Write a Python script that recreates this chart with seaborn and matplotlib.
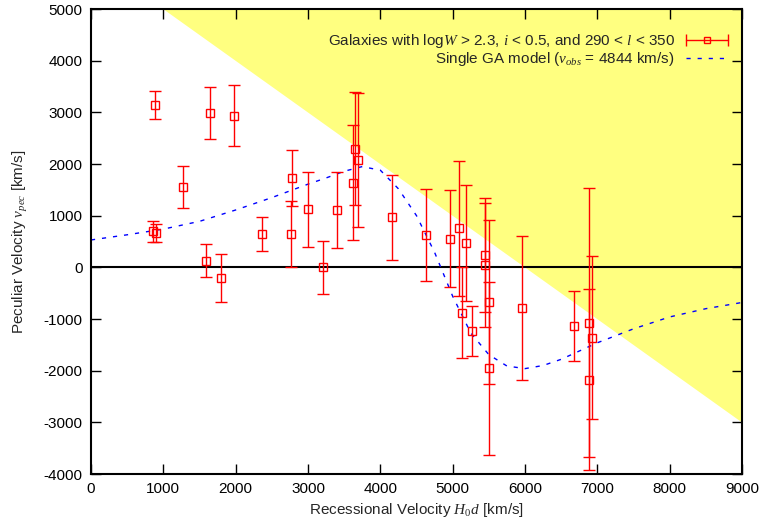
import numpy as np
import pandas as pd
import matplotlib
matplotlib.use("Agg")
import matplotlib.pyplot as plt
from matplotlib.lines import Line2D
from matplotlib.legend_handler import HandlerLine2D, HandlerTuple
import seaborn as sns

# galaxies: recessional velocity H0d, peculiar velocity, error (km/s)
hd = [880, 1645, 1977, 1267, 2774, 862, 899, 2360, 2760, 1590, 1797,
      2996, 3401, 3212, 3650, 3691, 3627, 4162, 4627, 4960, 5084, 5180,
      5125, 5272, 5452, 5447, 5498, 5502, 5959, 6682, 6885, 6922, 6880]
vpec = [3140, 2990, 2935, 1560, 1735, 700, 665, 645, 645, 130, -210,
        1120, 1105, 0, 2300, 2080, 1640, 965, 630, 550, 755, 476,
        -878, -1230, 238, 45, -677, -1955, -788, -1130, -1070, -1362, -2175]
verr = [270, 500, 590, 410, 545, 200, 165, 325, 630, 320, 460,
        725, 735, 510, 1100, 1300, 1115, 830, 895, 940, 1310, 1120,
        875, 490, 1100, 1200, 1590, 1680, 1400, 680, 2600, 1575, 1750]

# single GA model curve
model_hd = [0, 500, 1000, 1500, 2000, 2500, 3000, 3250, 3500, 3750, 4000,
            4250, 4500, 4750, 5000, 5250, 5500, 5750, 6000, 6250, 6500,
            6750, 7000, 7500, 8000, 8500, 9000]
model_v = [530, 630, 740, 890, 1110, 1350, 1610, 1730, 1860, 1950, 1880,
           1520, 1000, 290, -560, -1270, -1690, -1910, -1960, -1900, -1780,
           -1620, -1460, -1190, -960, -800, -680]

cz_limit = 6000  # shaded where H0d + v_pec > cz_limit
xlim = (0, 9000)
ylim = (-4000, 5000)

gal_label = r"Galaxies with log$W$ > 2.3, $i$ < 0.5, and 290 < $l$ < 350"
model_label = r"Single GA model ($v_{obs}$ = 4844 km/s)"

sns.set_style("ticks")
plt.rcParams['font.family'] = ['Liberation Sans', 'DejaVu Sans']
plt.rcParams['mathtext.fontset'] = 'custom'
plt.rcParams['mathtext.it'] = 'Liberation Serif:italic'
plt.rcParams['mathtext.rm'] = 'Liberation Serif'
plt.rcParams['axes.unicode_minus'] = False

fig = plt.figure(figsize=(7.62, 5.21), dpi=100)
ax = fig.add_axes([0.1194, 0.0902, 0.8544, 0.8925])

xs = np.array(xlim, dtype=float)
ax.fill_between(xs, cz_limit - xs, ylim[1], color="#ffff80", lw=0, zorder=0)
ax.axhline(0, color="black", lw=1.5, zorder=1)

ax.errorbar(hd, vpec, yerr=verr, fmt="s", ms=5.5, mfc="none", mec="red",
            mew=1.0, color="red", ecolor="red", elinewidth=1.0, capsize=4.5,
            capthick=1.0, zorder=3)

df = pd.DataFrame({"hd": model_hd, "v": model_v})
sns.lineplot(data=df, x="hd", y="v", ax=ax, color="blue", lw=1.0,
             dashes=False, zorder=2, legend=False)
ax.lines[-1].set_linestyle((0, (3, 5)))

ax.set_xlim(*xlim)
ax.set_ylim(*ylim)
ax.set_xticks(np.arange(0, 9001, 1000))
ax.set_yticks(np.arange(-4000, 5001, 1000))
ax.tick_params(direction="in", length=7, width=1, top=True, right=True,
               labelsize=11, colors="black", pad=6)
for s in ax.spines.values():
    s.set_linewidth(1.5)
    s.set_color("black")
    s.set_visible(True)

ax.set_xlabel(r"Recessional Velocity $H_0d$ [km/s]", fontsize=11, labelpad=3)
ax.set_ylabel(r"Peculiar Velocity $v_{pec}$ [km/s]", fontsize=11, labelpad=10)

# gnuplot-like key: horizontal bar with end caps and a box in the middle
gal_line = Line2D([], [], color="red", lw=1.0, marker="s", ms=4.5,
                  mfc="none", mec="red", mew=1.0)
gal_caps = Line2D([], [], color="red", lw=0, marker="|", ms=9, mew=1.0)
model_line = Line2D([], [], color="blue", lw=1.0, ls=(0, (3, 5)))
leg = ax.legend([(gal_line, gal_caps), model_line], [gal_label, model_label],
                loc="upper right", bbox_to_anchor=(0.978, 0.95),
                frameon=False, markerfirst=False, fontsize=11,
                handlelength=2.75, handletextpad=0.7, labelspacing=0.0,
                borderpad=0, borderaxespad=0,
                handler_map={tuple: HandlerTuple(ndivide=1),
                             gal_caps: HandlerLine2D(numpoints=2, marker_pad=0.0)})

fig.savefig("out.png", dpi=100)
